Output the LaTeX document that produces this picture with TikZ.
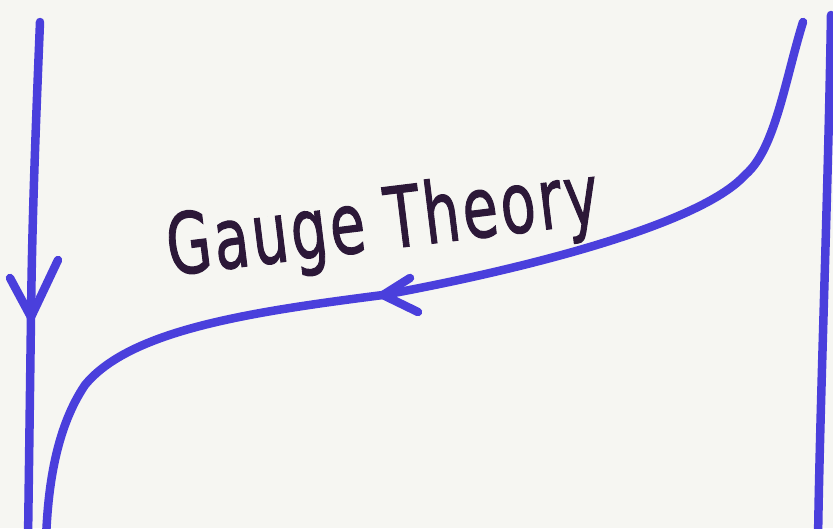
\documentclass[tikz,border=0pt]{standalone}
\usepackage{fontspec}
\newfontfamily\handfont[FakeBold=1.5,LetterSpace=5]{DejaVu Sans}
\definecolor{paper}{HTML}{F6F6F2}
\definecolor{marker}{HTML}{4A3FDC}
\definecolor{ink}{HTML}{2C1838}
\begin{document}
\begin{tikzpicture}[x=1pt,y=-1pt,
  pen/.style={draw=marker,line width=8.5pt,line cap=round,line join=round},
  label/.style={text=ink,font=\handfont\fontsize{58}{58}\selectfont,inner sep=0pt}]
\fill[paper] (0,0) rectangle (833,528);
\useasboundingbox (0,0) rectangle (833,528);
% left line
\coordinate (l1) at (40,22);
\coordinate (lv) at (31,317);
\coordinate (l2) at (28,540);
\coordinate (la) at (10,278);
\coordinate (lb) at (58,260);
\draw[pen] (l1) .. controls (36,120) and (32,220) .. (lv) -- (l2);
\draw[pen] (la) -- (lv) -- (lb);
% right line
\coordinate (r1) at (831,15);
\coordinate (r2) at (818,540);
\draw[pen] (r1) .. controls (828,200) and (820,400) .. (r2);
% main curve
\coordinate (c1) at (803,22);
\coordinate (c2) at (745,175);
\coordinate (cv) at (383,295);
\coordinate (c3) at (46,540);
\coordinate (ca) at (410,278);
\coordinate (cb) at (418,312);
\draw[pen] (c1) .. controls (785,80) and (775,150) .. (c2)
  .. controls (700,225) and (520,270) .. (cv)
  .. controls (250,312) and (130,330) .. (85,385)
  .. controls (58,425) and (48,480) .. (c3);
\draw[pen] (ca) -- (cv) -- (cb);
% text
\node[label,rotate=7,yscale=1.45,xscale=0.99] (txt) at (383,226) {Gauge Theory};
\end{tikzpicture}
\end{document}
